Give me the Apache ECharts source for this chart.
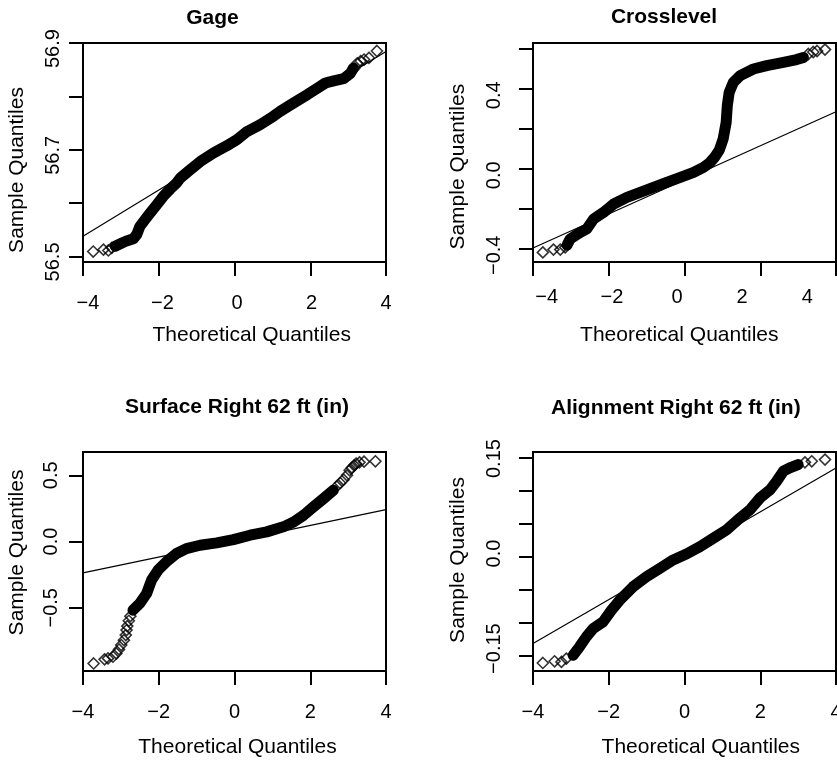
<!DOCTYPE html>
<html>
<head>
	<meta charset="utf-8">
	<title>QQ plots</title>
	<script src="https://cdn.jsdelivr.net/npm/echarts@6/dist/echarts.min.js"></script>
	<style>
		body { margin: 0; background: #fff; }
		#main { width: 837px; height: 761px; }
	</style>
</head>
<body>
<div id="main"></div>
<script>
	// x ticks shared by all panels
	var xTicks = [-4, -2, 0, 2, 4];

	// Gage
	var gageBodyX = [-3.15, -3.0, -2.85, -2.67, -2.58, -2.50, -2.35, -2.23, -2.05, -1.88, -1.70, -1.53, -1.43, -1.17, -0.90, -0.55, -0.20, 0.07, 0.33, 0.68, 0.95, 1.21, 1.56, 1.92, 2.18, 2.40, 2.62, 2.88, 3.06, 3.14];
	var gageBodyY = [56.519, 56.524, 56.529, 56.533, 56.541, 56.556, 56.570, 56.581, 56.597, 56.6125, 56.626, 56.6375, 56.647, 56.6625, 56.678, 56.694, 56.7075, 56.719, 56.734, 56.747, 56.759, 56.772, 56.7875, 56.803, 56.815, 56.825, 56.829, 56.833, 56.843, 56.853];
	var gageTailX = [-3.73, -3.46, -3.33, -3.24, 3.16, 3.24, 3.33, 3.42, 3.55, 3.76];
	var gageTailY = [56.509, 56.5125, 56.511, 56.516, 56.852, 56.862, 56.866, 56.869, 56.872, 56.885];
	var gageLineX = [-4, 4];
	var gageLineY = [56.5375, 56.884];
	var gageTicks = [56.5, 56.6, 56.7, 56.8, 56.9];
	var gageLabelVals = [56.5, 56.7, 56.9];
	var gageLabels = ['56.5', '56.7', '56.9'];

	// Crosslevel
	var crossBodyX = [-3.10, -3.02, -2.75, -2.58, -2.40, -2.14, -1.87, -1.52, -1.17, -0.82, -0.47, -0.11, 0.24, 0.50, 0.66, 0.80, 0.92, 1.02, 1.10, 1.13, 1.18, 1.29, 1.47, 1.82, 2.17, 2.61, 2.96, 3.14];
	var crossBodyY = [-0.38, -0.35, -0.317, -0.30, -0.25, -0.217, -0.175, -0.142, -0.117, -0.092, -0.067, -0.042, -0.017, 0.008, 0.03, 0.06, 0.095, 0.15, 0.233, 0.317, 0.383, 0.433, 0.467, 0.50, 0.517, 0.533, 0.547, 0.558];
	var crossTailX = [-3.74, -3.46, -3.28, -3.15, 3.27, 3.40, 3.50, 3.71];
	var crossTailY = [-0.417, -0.403, -0.403, -0.392, 0.575, 0.585, 0.59, 0.597];
	var crossLineX = [-4, 4];
	var crossLineY = [-0.395, 0.2865];
	var crossTicks = [-0.4, -0.2, 0, 0.2, 0.4, 0.6];
	var crossLabelVals = [-0.4, 0, 0.4];
	var crossLabels = ['\u22120.4', '0.0', '0.4'];

	// Surface Right 62 ft
	var surfBodyX = [-2.68, -2.50, -2.32, -2.19, -2.02, -1.80, -1.53, -1.27, -0.91, -0.47, -0.03, 0.41, 0.85, 1.29, 1.56, 1.82, 2.08, 2.35, 2.61];
	var surfBodyY = [-0.518, -0.467, -0.392, -0.291, -0.216, -0.153, -0.09, -0.053, -0.028, -0.01, 0.015, 0.048, 0.073, 0.111, 0.148, 0.198, 0.261, 0.324, 0.387];
	var surfTailX = [-3.72, -3.43, -3.34, -3.21, -3.12, -3.05, -2.99, -2.92, -2.87, -2.85, -2.83, -2.79, -2.75,
		2.70, 2.79, 2.88, 2.97, 3.04, 3.10, 3.16, 3.21, 3.30, 3.42, 3.72];
	var surfTailY = [-0.92, -0.889, -0.882, -0.869, -0.844, -0.814, -0.781, -0.744, -0.706, -0.668, -0.638, -0.598, -0.563,
		0.417, 0.442, 0.467, 0.50, 0.538, 0.558, 0.575, 0.588, 0.598, 0.603, 0.606];
	var surfLineX = [-4, 4];
	var surfLineY = [-0.236, 0.241];
	var surfTicks = [-0.5, 0, 0.5];
	var surfLabelVals = [-0.5, 0, 0.5];
	var surfLabels = ['\u22120.5', '0.0', '0.5'];

	// Alignment Right 62 ft
	var alignBodyX = [-2.94, -2.77, -2.59, -2.41, -2.15, -1.93, -1.71, -1.36, -1.00, -0.65, -0.30, 0.05, 0.41, 0.76, 1.11, 1.46, 1.73, 1.99, 2.26, 2.43, 2.61, 2.78, 3.00];
	var alignBodyY = [-0.149, -0.136, -0.121, -0.1086, -0.0985, -0.081, -0.0657, -0.0455, -0.0303, -0.0177, -0.005, 0.004, 0.0152, 0.0278, 0.0404, 0.058, 0.0707, 0.0884, 0.101, 0.1136, 0.129, 0.134, 0.139];
	var alignTailX = [-3.74, -3.43, -3.25, -3.12, 3.18, 3.36, 3.71];
	var alignTailY = [-0.1606, -0.158, -0.159, -0.154, 0.1424, 0.144, 0.1465];
	var alignLineX = [-4, 4];
	var alignLineY = [-0.1313, 0.1338];
	var alignTicks = [-0.15, -0.10, -0.05, 0, 0.05, 0.10, 0.15];
	var alignLabelVals = [-0.15, 0, 0.15];
	var alignLabels = ['\u22120.15', '0.0', '0.15'];

	var font = '"Liberation Sans", Arial, Helvetica, sans-serif';

	function pairs(xs, ys) {
		return xs.map(function (x, i) { return [x, ys[i]]; });
	}

	// xLab / yLab: ranges of the label-only axes (labels sit a little off their ticks in the original)
	var panels = [
		{ title: 'Gage', body: [gageBodyX, gageBodyY], tail: [gageTailX, gageTailY], line: [gageLineX, gageLineY],
			ticks: gageTicks, labelVals: gageLabelVals, labels: gageLabels, min: 56.4894, max: 56.9,
			xLab: [-4.134, 4.0001], yLab: [56.4999, 56.9106],
			grid: { left: 83, top: 43, width: 303, height: 219 }, xMargin: 31.5, yMargin: 20,
			titlePos: [212.5, 18], xNamePos: [251.7, 335.5], yNamePos: [17, 170] },
		{ title: 'Crosslevel', body: [crossBodyX, crossBodyY], tail: [crossTailX, crossTailY], line: [crossLineX, crossLineY],
			ticks: crossTicks, labelVals: crossLabelVals, labels: crossLabels, min: -0.465, max: 0.63,
			xLab: [-4.4206, 4.881], yLab: [-0.4335, 0.6615],
			grid: { left: 533, top: 43, width: 303, height: 219 }, xMargin: 25.5, yMargin: 29,
			titlePos: [664, 17.5], xNamePos: [679.3, 335.5], yNamePos: [458.7, 166.7] },
		{ title: 'Surface Right 62 ft (in)', body: [surfBodyX, surfBodyY], tail: [surfTailX, surfTailY], line: [surfLineX, surfLineY],
			ticks: surfTicks, labelVals: surfLabelVals, labels: surfLabels, min: -0.977, max: 0.676,
			xLab: [-4.0001, 4.0001], yLab: [-0.977, 0.676],
			grid: { left: 83, top: 452, width: 303, height: 219 }, xMargin: 31, yMargin: 22,
			titlePos: [237, 407.5], xNamePos: [237.5, 747.5], yNamePos: [17.3, 552.5] },
		{ title: 'Alignment Right 62 ft (in)', body: [alignBodyX, alignBodyY], tail: [alignTailX, alignTailY], line: [alignLineX, alignLineY],
			ticks: alignTicks, labelVals: alignLabelVals, labels: alignLabels, min: -0.1727, max: 0.158,
			xLab: [-4.0001, 4.0001], yLab: [-0.1854, 0.1604],
			grid: { left: 533, top: 452, width: 303, height: 219 }, xMargin: 31, yMargin: 29,
			titlePos: [675.8, 408], xNamePos: [700.8, 747.5], yNamePos: [458.7, 560] }
	];

	var grids = [], xAxes = [], yAxes = [], xLabelAxes = [], yLabelAxes = [], series = [], texts = [];
	var tickStyle = { show: true, length: 14, lineStyle: { color: '#000', width: 2 } };

	panels.forEach(function (p, i) {
		grids.push({
			left: p.grid.left, top: p.grid.top, width: p.grid.width, height: p.grid.height,
			show: true, borderColor: '#000', borderWidth: 2, outerBoundsMode: 'none'
		});
		// tick axes (carry the data)
		xAxes.push({
			gridIndex: i, type: 'value', min: -4, max: 4, position: 'bottom',
			axisLine: { show: false, onZero: false },
			axisTick: echarts.util.extend({ customValues: xTicks }, tickStyle),
			axisLabel: { show: false },
			splitLine: { show: false }
		});
		yAxes.push({
			gridIndex: i, type: 'value', min: p.min, max: p.max, position: 'left',
			axisLine: { show: false, onZero: false },
			axisTick: echarts.util.extend({ customValues: p.ticks }, tickStyle),
			axisLabel: { show: false },
			splitLine: { show: false }
		});
		// label-only axes
		xLabelAxes.push({
			gridIndex: i, type: 'value', min: p.xLab[0], max: p.xLab[1], position: 'bottom',
			axisLine: { show: false, onZero: false }, axisTick: { show: false }, splitLine: { show: false },
			axisLabel: {
				customValues: xTicks, margin: p.xMargin, fontSize: 20, color: '#000', fontFamily: font,
				formatter: function (v) { return String(v).replace('-', '\u2212'); }
			}
		});
		yLabelAxes.push({
			gridIndex: i, type: 'value', min: p.yLab[0], max: p.yLab[1], position: 'left',
			axisLine: { show: false, onZero: false }, axisTick: { show: false }, splitLine: { show: false },
			axisLabel: {
				customValues: p.labelVals, rotate: 90, margin: p.yMargin,
				fontSize: 20, color: '#000', fontFamily: font,
				formatter: function (v) {
					for (var k = 0; k < p.labelVals.length; k++) {
						if (Math.abs(v - p.labelVals[k]) < 1e-9) return p.labels[k];
					}
					return '';
				}
			}
		});
		// qqline
		series.push({
			type: 'line', xAxisIndex: i, yAxisIndex: i, data: pairs(p.line[0], p.line[1]),
			symbol: 'none', silent: true, lineStyle: { color: '#000', width: 1.2 }
		});
		// dense run of points
		series.push({
			type: 'line', xAxisIndex: i, yAxisIndex: i, data: pairs(p.body[0], p.body[1]),
			symbol: 'none', silent: true, lineStyle: { color: '#000', width: 11, cap: 'round', join: 'round' }
		});
		// sparse tail points
		series.push({
			type: 'scatter', xAxisIndex: i, yAxisIndex: i, data: pairs(p.tail[0], p.tail[1]),
			symbol: 'diamond', symbolSize: 11, silent: true,
			itemStyle: { color: 'rgba(0,0,0,0)', borderColor: '#000', borderWidth: 1.6 }
		});

		texts.push({ type: 'text', x: p.titlePos[0], y: p.titlePos[1],
			style: { text: p.title, fill: '#000', font: 'bold 21px ' + font, align: 'center', verticalAlign: 'middle', textAlign: 'center', textVerticalAlign: 'middle' } });
		texts.push({ type: 'text', x: p.xNamePos[0], y: p.xNamePos[1],
			style: { text: 'Theoretical Quantiles', fill: '#000', font: '21px ' + font, align: 'center', verticalAlign: 'middle', textAlign: 'center', textVerticalAlign: 'middle' } });
		texts.push({ type: 'text', x: p.yNamePos[0], y: p.yNamePos[1], rotation: Math.PI / 2,
			style: { text: 'Sample Quantiles', fill: '#000', font: '21px ' + font, align: 'center', verticalAlign: 'middle', textAlign: 'center', textVerticalAlign: 'middle' } });
	});

	var myChart = echarts.init(document.getElementById('main'));
	var option = {
		animation: false,
		backgroundColor: '#fff',
		grid: grids,
		xAxis: xAxes.concat(xLabelAxes),
		yAxis: yAxes.concat(yLabelAxes),
		series: series,
		graphic: texts
	};
	myChart.setOption(option);
</script>
</body>
</html>
